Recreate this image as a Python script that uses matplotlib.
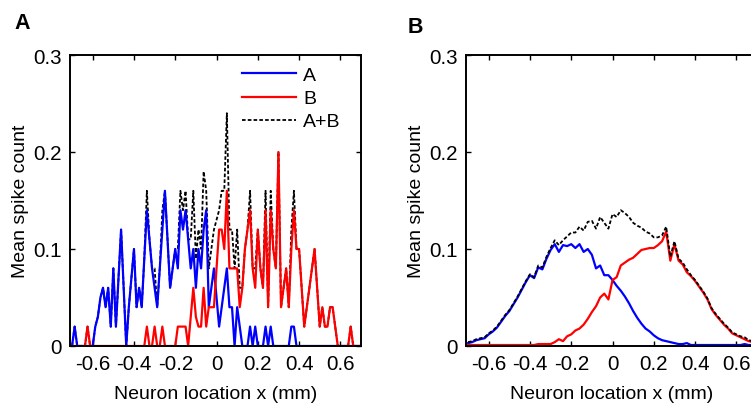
import numpy as np
import matplotlib
matplotlib.use("Agg")
import matplotlib.pyplot as plt

plt.rcParams['font.family'] = ['Liberation Sans', 'DejaVu Sans']
plt.rcParams['axes.unicode_minus'] = False

# Panel A: single-trial responses, 113 neuron locations
loc_a = np.linspace(-0.7, 0.7, 113)
count_a_A = [0, 0.02, 0, 0, 0, 0, 0, 0, 0, 0.02,
             0.03, 0.05, 0.06, 0.04, 0.06, 0.02, 0.08, 0.02, 0.07, 0.12,
             0.06, 0, 0.04, 0.07, 0.10, 0.04, 0.06, 0.04, 0.09, 0.14,
             0.11, 0.08, 0.06, 0.04, 0.08, 0.12, 0.16, 0.11, 0.06, 0.08,
             0.10, 0.08, 0.14, 0.12, 0.14, 0.11, 0.08, 0.10, 0.06, 0.10,
             0.08, 0.12, 0.14, 0.04, 0.06, 0.08, 0.05, 0.02, 0.04, 0.06,
             0.08, 0.04, 0.04, 0, 0.04, 0.02, 0, 0, 0, 0.02,
             0, 0.02, 0, 0, 0, 0.02, 0, 0.02, 0, 0,
             0, 0, 0, 0, 0, 0.02, 0.02, 0, 0, 0,
             0, 0, 0, 0, 0, 0, 0, 0, 0, 0,
             0, 0, 0, 0, 0, 0, 0, 0, 0, 0,
             0, 0, 0]
count_a_B = [0, 0, 0, 0, 0, 0, 0.02, 0, 0, 0,
             0, 0, 0, 0, 0, 0, 0, 0, 0, 0,
             0, 0, 0, 0, 0, 0, 0, 0, 0, 0.02,
             0, 0, 0.02, 0, 0, 0.02, 0, 0, 0, 0,
             0, 0.02, 0.02, 0.02, 0.02, 0, 0.03, 0.06, 0.03, 0.02,
             0.02, 0.06, 0.02, 0.04, 0.04, 0.04, 0.08, 0.12, 0.12, 0.10,
             0.16, 0.08, 0.08, 0.08, 0.08, 0.04, 0.06, 0.10, 0.12, 0.14,
             0.08, 0.06, 0.12, 0.08, 0.06, 0.14, 0.04, 0.14, 0.10, 0.08,
             0.20, 0.04, 0.06, 0.08, 0.04, 0.10, 0.14, 0.10, 0.10, 0.06,
             0.02, 0.04, 0.06, 0.08, 0.10, 0.06, 0.02, 0.04, 0.02, 0.02,
             0.04, 0.04, 0.02, 0, 0, 0, 0, 0, 0.02, 0,
             0, 0, 0]

# Panel B: averaged responses, 71 neuron locations
loc_b = np.linspace(-0.7, 0.7, 71)
count_b_A = [0.003, 0.004, 0.006, 0.007, 0.008, 0.012, 0.015, 0.019, 0.025, 0.031,
             0.036, 0.043, 0.050, 0.058, 0.066, 0.073, 0.070, 0.081, 0.079, 0.090,
             0.099, 0.105, 0.097, 0.104, 0.103, 0.105, 0.101, 0.105, 0.097, 0.100,
             0.094, 0.080, 0.083, 0.073, 0.073, 0.068, 0.062, 0.057, 0.051, 0.044,
             0.036, 0.029, 0.023, 0.018, 0.015, 0.011, 0.008, 0.006, 0.005, 0.004,
             0.003, 0.002, 0.002, 0.003, 0.001, 0.001, 0.001, 0.001, 0.001, 0.001,
             0.001, 0.001, 0.001, 0.001, 0.001, 0.001, 0.001, 0.002, 0.001, 0.001,
             0.001]
count_b_B = [0.001, 0.001, 0.001, 0.001, 0.001, 0.001, 0.001, 0.001, 0.001, 0.001,
             0.001, 0.001, 0.001, 0.001, 0.001, 0.001, 0.001, 0.002, 0.002, 0.002,
             0.002, 0.004, 0.007, 0.005, 0.010, 0.012, 0.016, 0.018, 0.022, 0.028,
             0.035, 0.041, 0.050, 0.054, 0.048, 0.068, 0.071, 0.083, 0.086, 0.089,
             0.091, 0.095, 0.099, 0.100, 0.101, 0.101, 0.104, 0.108, 0.118, 0.088,
             0.105, 0.088, 0.084, 0.076, 0.072, 0.067, 0.061, 0.055, 0.048, 0.038,
             0.032, 0.027, 0.022, 0.018, 0.013, 0.011, 0.009, 0.007, 0.005, 0.004,
             0.003]

xtick_vals = [-0.6, -0.4, -0.2, 0, 0.2, 0.4, 0.6]
xtick_labels = ['-0.6', '-0.4', '-0.2', '0', '0.2', '0.4', '0.6']
ytick_vals = [0, 0.1, 0.2, 0.3]
ytick_labels = ['0', '0.1', '0.2', '0.3']

fs_tick = 14.8
fs_label = 14.0
dash = (0, (2.0, 1.2))

fig = plt.figure(figsize=(7.51, 4.06), dpi=100)
ax_a = fig.add_axes([70 / 751, 59 / 406, 291 / 751, 291 / 406])
ax_b = fig.add_axes([466 / 751, 59 / 406, 291 / 751, 291 / 406])


def style_axes(ax):
    ax.set_xlim(-0.71, 0.70)
    ax.set_ylim(0, 0.3)
    ax.set_xticks(xtick_vals)
    ax.set_xticklabels(xtick_labels)
    ax.set_yticks(ytick_vals)
    ax.set_yticklabels(ytick_labels)
    ax.tick_params(direction='in', length=3.5, width=1.0, top=True, right=True,
                   labelsize=fs_tick, pad=6)
    for s in ax.spines.values():
        s.set_linewidth(1.4)
    ax.set_xlabel('Neuron location x (mm)', fontsize=fs_label, labelpad=8.5)
    ax.set_ylabel('Mean spike count', fontsize=fs_label, labelpad=3)


# A: summed response sits underneath the two single-stimulus curves
sum_a = np.array(count_a_A) + np.array(count_a_B)
ax_a.plot(loc_a, sum_a, color='black', lw=1.3, ls=dash, label='A+B', zorder=1.5)
ax_a.plot(loc_a, count_a_A, color='blue', lw=1.6, label='A', zorder=2)
ax_a.plot(loc_a, count_a_B, color='red', lw=1.6, label='B', zorder=2)
style_axes(ax_a)
h, l = ax_a.get_legend_handles_labels()
order = [l.index('A'), l.index('B'), l.index('A+B')]
ax_a.legend([h[i] for i in order], [l[i] for i in order], loc='upper left',
            bbox_to_anchor=(0.59, 0.96), frameon=False, fontsize=fs_label,
            handlelength=2.8, handletextpad=0.35, labelspacing=0.28,
            borderpad=0, borderaxespad=0)

# B: summed response drawn on top
sum_b = np.array(count_b_A) + np.array(count_b_B)
ax_b.plot(loc_b, count_b_A, color='blue', lw=1.6)
ax_b.plot(loc_b, count_b_B, color='red', lw=1.6)
ax_b.plot(loc_b, sum_b, color='black', lw=1.3, ls=dash)
style_axes(ax_b)

fig.text(14 / 751, 1 - 29 / 406, 'A', fontsize=15.5, fontweight='bold')
fig.text(408 / 751, 1 - 33 / 406, 'B', fontsize=15.5, fontweight='bold')

fig.savefig('out.png', dpi=100)
